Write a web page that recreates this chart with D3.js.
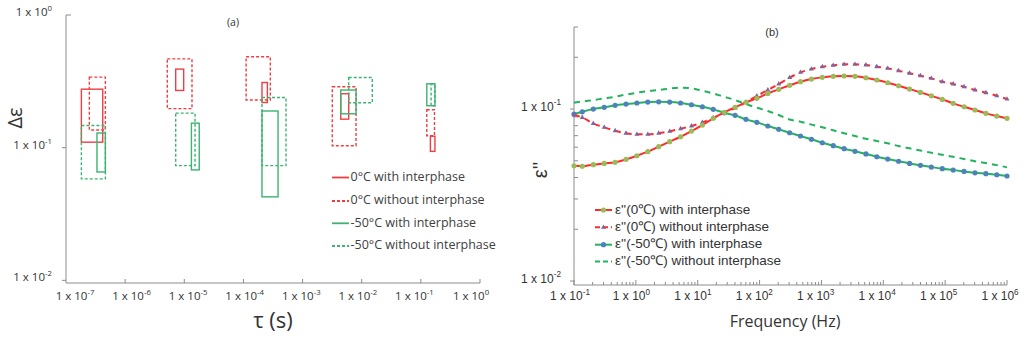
<!DOCTYPE html>
<html><head><meta charset="utf-8">
<script src="https://cdn.jsdelivr.net/npm/d3@7"></script>
<style>body{margin:0;background:#fff}</style>
</head><body><svg id="c" width="1024" height="341"></svg>
<script>
// ---------- Panel (a) data ----------
const seriesA = ["0°C with interphase", "0°C without interphase", "-50°C with interphase", "-50°C without interphase"];
const boxSeries = [0, 1, 2, 3,   1, 0, 3, 2,   1, 0, 3, 2,   1, 0, 2, 3,   2, 3, 1, 0];
const boxTauLo  = [1.82e-7, 2.48e-7, 3.34e-7, 1.82e-7,  5.16e-6, 7.16e-6, 7.16e-6, 1.32e-5,  1.11e-4, 2.06e-4, 2.06e-4, 2.06e-4,  3.18e-3, 4.42e-3, 4.42e-3, 6.03e-3,  0.126, 0.149, 0.126, 0.145];
const boxTauHi  = [4.18e-7, 4.63e-7, 4.63e-7, 4.63e-7,  1.35e-5, 9.77e-6, 1.52e-5, 1.79e-5,  2.85e-4, 2.54e-4, 5.25e-4, 3.85e-4,  8.02e-3, 6.03e-3, 8.02e-3, 1.51e-2,  0.173, 0.173, 0.170, 0.173];
const boxEpsLo  = [0.110, 0.136, 0.0656, 0.0582,  0.197, 0.270, 0.0732, 0.068,  0.229, 0.219, 0.0732, 0.0426,  0.1035, 0.164, 0.180, 0.218,  0.207, 0.207, 0.123, 0.0938];
const boxEpsHi  = [0.276, 0.340, 0.129, 0.147,  0.467, 0.391, 0.182, 0.153,  0.485, 0.310, 0.239, 0.189,  0.288, 0.255, 0.272, 0.338,  0.303, 0.303, 0.193, 0.122];
const tauTicks = [1e-7, 1e-6, 1e-5, 1e-4, 1e-3, 1e-2, 1e-1, 1];
const tauTickExp = ["-7", "-6", "-5", "-4", "-3", "-2", "-1", "0"];
const epsTicks = [1e-2, 1e-1, 1];
const epsTickExp = ["-2", "-1", "0"];

// ---------- Panel (b) data ----------
const freq = [0.1, 0.136, 0.205, 0.308, 0.462, 0.693, 1.04, 1.56, 2.34, 3.52, 5.28, 7.92, 11.9, 17.8, 26.8, 40.2, 60.3, 90.5, 136, 204, 306, 459, 689, 1033, 1552, 2328, 3493, 5248, 7870, 11800, 17700, 26600, 39900, 59800, 89900, 134900, 202300, 304100, 456000, 684000, 1000000];
const eps0With = [0.0468, 0.0465, 0.0475, 0.0483, 0.0490, 0.0510, 0.0535, 0.0565, 0.0604, 0.0646, 0.0690, 0.0745, 0.0807, 0.0883, 0.0957, 0.1023, 0.1094, 0.1154, 0.1233, 0.1302, 0.1374, 0.1442, 0.1494, 0.1528, 0.1549, 0.1556, 0.1549, 0.1520, 0.1475, 0.1422, 0.1366, 0.1307, 0.1250, 0.1194, 0.1138, 0.1079, 0.1031, 0.0987, 0.0944, 0.0910, 0.0883];
const eps0Without = [0.0923, 0.0893, 0.0824, 0.0783, 0.0748, 0.0723, 0.0713, 0.0713, 0.0723, 0.0742, 0.0768, 0.0797, 0.0837, 0.0890, 0.0951, 0.1013, 0.1098, 0.1191, 0.1290, 0.1398, 0.1524, 0.1633, 0.1708, 0.1762, 0.1795, 0.1820, 0.1820, 0.1803, 0.1762, 0.1724, 0.1671, 0.1614, 0.1563, 0.1507, 0.1442, 0.1398, 0.1348, 0.1290, 0.1244, 0.1194, 0.1143];
const eps50With = [0.0935, 0.0964, 0.1000, 0.1023, 0.1051, 0.1069, 0.1084, 0.1098, 0.1102, 0.1098, 0.1084, 0.1059, 0.1031, 0.0996, 0.0951, 0.0919, 0.0871, 0.0837, 0.0797, 0.0762, 0.0728, 0.0697, 0.0667, 0.0637, 0.0612, 0.0588, 0.0568, 0.0548, 0.0528, 0.0512, 0.0497, 0.0483, 0.0471, 0.0460, 0.0450, 0.0442, 0.0434, 0.0426, 0.0421, 0.0415, 0.0408];
const eps50Without = [0.1088, 0.1106, 0.1128, 0.1154, 0.1179, 0.1214, 0.1244, 0.1273, 0.1290, 0.1315, 0.1330, 0.1319, 0.1277, 0.1233, 0.1179, 0.1128, 0.1069, 0.1018, 0.0974, 0.0923, 0.0869, 0.0844, 0.0812, 0.0783, 0.0752, 0.0723, 0.0697, 0.0672, 0.0652, 0.0632, 0.0609, 0.0591, 0.0574, 0.0557, 0.0542, 0.0528, 0.0512, 0.0497, 0.0485, 0.0472, 0.0458];
const seriesB = ["ε''(0℃) with interphase", "ε''(0℃) without interphase", "ε''(-50℃) with interphase", "ε''(-50℃) without interphase"];
const freqTicks = [1e-1, 1e0, 1e1, 1e2, 1e3, 1e4, 1e5, 1e6];
const freqTickExp = ["-1", "0", "1", "2", "3", "4", "5", "6"];
const epsBTicks = [1e-2, 1e-1];
const epsBTickExp = ["-2", "-1"];

// ---------- common ----------
const svg = d3.select("#c");
const fA = "'Open Sans', sans-serif";
const fB = "'Liberation Sans', Arial, sans-serif";
const axisCol = "#8c8c8c";
const txtCol = "#333";

function sciLabel(g, x, y, exp, size, font, anchor) {
  const t = g.append("text").attr("x", x).attr("y", y)
    .attr("font-family", font).attr("font-size", size).attr("fill", txtCol)
    .attr("text-anchor", anchor).attr("dominant-baseline", "middle");
  t.append("tspan").text("1 x 10");
  t.append("tspan").attr("dy", -size * 0.35).attr("font-size", size * 0.68).text(exp);
}

// ================= Panel (a) =================
const gA = svg.append("g");
const xA = d3.scaleLog().domain([1e-7, 1]).range([66, 480]);
const xALab = d3.scaleLog().domain([1e-7, 1]).range([75, 471]);
const yA = d3.scaleLog().domain([Math.pow(10, -2.02), 1]).range([283, 15]);
const colA = ["#ef3e42", "#ef3e42", "#3cb371", "#3cb371"];
const dashA = [null, "3,2", null, "3,2"];

gA.append("line").attr("x1", xA.range()[0]).attr("x2", xA.range()[0]).attr("y1", yA.range()[0]).attr("y2", yA.range()[1]).attr("stroke", axisCol);
gA.append("line").attr("x1", xA.range()[0]).attr("x2", xA.range()[1]).attr("y1", yA.range()[0]).attr("y2", yA.range()[0]).attr("stroke", axisCol);
tauTicks.forEach((v, i) => {
  if (i > 0) gA.append("line").attr("x1", xA(v)).attr("x2", xA(v)).attr("y1", yA.range()[0]).attr("y2", yA.range()[0] - 4).attr("stroke", axisCol);
  sciLabel(gA, xALab(v), 297, tauTickExp[i], 11.5, fA, "middle");
});
epsTicks.forEach((v, i) => {
  const inward = v === 1;
  gA.append("line").attr("x1", xA.range()[0]).attr("x2", xA.range()[0] + (inward ? 5 : -4)).attr("y1", yA(v)).attr("y2", yA(v)).attr("stroke", axisCol);
  sciLabel(gA, 52, yA(v) - 2, epsTickExp[i], 11.5, fA, "end");
});

boxSeries.forEach((s, i) => {
  const x0 = xA(boxTauLo[i]), x1 = xA(boxTauHi[i]);
  const y0 = yA(boxEpsHi[i]), y1 = yA(boxEpsLo[i]);
  gA.append("rect").attr("x", x0).attr("y", y0).attr("width", x1 - x0).attr("height", y1 - y0)
    .attr("fill", "none").attr("stroke", colA[s]).attr("stroke-width", 1.4)
    .attr("stroke-dasharray", dashA[s]);
});

gA.append("text").attr("x", 233).attr("y", 23).attr("text-anchor", "middle").attr("dominant-baseline", "middle")
  .attr("font-family", fA).attr("font-size", 10.5).attr("fill", txtCol).text("(a)");
gA.append("text").attr("x", 273).attr("y", 322).attr("text-anchor", "middle").attr("dominant-baseline", "middle")
  .attr("font-family", fA).attr("font-size", 22).attr("fill", txtCol).text("τ (s)");
gA.append("text").attr("transform", "translate(17,118) rotate(-90)").attr("text-anchor", "middle").attr("dominant-baseline", "middle")
  .attr("font-family", fA).attr("font-size", 20).attr("fill", txtCol).text("Δε");

const legAY = [177.5, 201, 223.3, 246];
seriesA.forEach((name, i) => {
  gA.append("line").attr("x1", 332).attr("x2", 349).attr("y1", legAY[i]).attr("y2", legAY[i])
    .attr("stroke", colA[i]).attr("stroke-width", 1.8).attr("stroke-dasharray", dashA[i]);
  gA.append("text").attr("x", 350.5).attr("y", legAY[i]).attr("dominant-baseline", "middle")
    .attr("font-family", fA).attr("font-size", 12.5).attr("fill", "#404040").text(name);
});

// ================= Panel (b) =================
const gB = svg.append("g");
const xB = d3.scaleLog().domain([0.1, 1e6]).range([574, 1007]);
const xBLab = d3.scaleLog().domain([0.1, 1e6]).range([570, 1000]);
const yB = d3.scaleLog().domain([Math.pow(10, -2.023), Math.pow(10, -0.523)]).range([285, 27]);

gB.append("line").attr("x1", xB.range()[0]).attr("x2", xB.range()[0]).attr("y1", yB.range()[0]).attr("y2", yB.range()[1]).attr("stroke", axisCol);
gB.append("line").attr("x1", xB.range()[0]).attr("x2", xB.range()[1]).attr("y1", yB.range()[0]).attr("y2", yB.range()[0]).attr("stroke", axisCol);
freqTicks.forEach((v, i) => {
  gB.append("line").attr("x1", xB(v)).attr("x2", xB(v)).attr("y1", yB.range()[0]).attr("y2", yB.range()[0] - 5).attr("stroke", axisCol);
  if (i < freqTicks.length - 1) {
    for (let m = 2; m <= 9; m++) {
      const mv = v * m;
      gB.append("line").attr("x1", xB(mv)).attr("x2", xB(mv)).attr("y1", yB.range()[0]).attr("y2", yB.range()[0] - 3).attr("stroke", axisCol);
    }
  }
  sciLabel(gB, xBLab(v), 297, freqTickExp[i], 12, fB, "middle");
});
epsBTicks.forEach((v, i) => {
  gB.append("line").attr("x1", xB.range()[0]).attr("x2", xB.range()[0] - 4).attr("y1", yB(v)).attr("y2", yB(v)).attr("stroke", axisCol);
  for (let m = 2; m <= 9; m++) {
    const mv = v * m;
    if (mv <= yB.domain()[1] * 1.001)
      gB.append("line").attr("x1", xB.range()[0]).attr("x2", xB.range()[0] + 4).attr("y1", yB(mv)).attr("y2", yB(mv)).attr("stroke", axisCol);
  }
  sciLabel(gB, 561, yB(v) - 1.5, epsBTickExp[i], 12, fB, "end");
});

const line = d3.line().x((d, i) => xB(freq[i])).y(d => yB(d)).curve(d3.curveMonotoneX);
const cRed = "#ff2a2a", cGreen = "#22b35e", cGreenMk = "#9bbb59", cBlue = "#4f81bd", cPurple = "#8064a2";
const linesB = [
  { data: eps50Without, stroke: cGreen, dash: "6,5", mk: null },
  { data: eps50With, stroke: cGreen, dash: null, mk: "circle", mkCol: cBlue },
  { data: eps0Without, stroke: cRed, dash: "6,5", mk: "tri", mkCol: cPurple },
  { data: eps0With, stroke: cRed, dash: null, mk: "circle", mkCol: cGreenMk }
];
const triSym = d3.symbol().type(d3.symbolTriangle).size(11);
function marker(g, type, x, y, col) {
  if (type === "circle") g.append("circle").attr("cx", x).attr("cy", y).attr("r", 2.6).attr("fill", col);
  else if (type === "tri") g.append("path").attr("d", triSym()).attr("transform", `translate(${x},${y})`).attr("fill", col);
}
linesB.forEach(s => {
  gB.append("path").attr("d", line(s.data)).attr("fill", "none").attr("stroke", s.stroke)
    .attr("stroke-width", 2).attr("stroke-dasharray", s.dash);
  if (s.mk) s.data.forEach((d, i) => marker(gB, s.mk, xB(freq[i]), yB(d), s.mkCol));
});

gB.append("text").attr("x", 772).attr("y", 33).attr("text-anchor", "middle").attr("dominant-baseline", "middle")
  .attr("font-family", fB).attr("font-size", 11).attr("fill", txtCol).text("(b)");
gB.append("text").attr("x", 785).attr("y", 323).attr("text-anchor", "middle").attr("dominant-baseline", "middle")
  .attr("font-family", fA).attr("font-size", 16).attr("fill", txtCol).text("Frequency (Hz)");
gB.append("text").attr("transform", "translate(542,170) rotate(-90)").attr("text-anchor", "middle").attr("dominant-baseline", "middle")
  .attr("font-family", fB).attr("font-size", 20).attr("fill", txtCol).text("ε''");

const legBY = [210, 227.3, 244.7, 261.5];
const legOrder = [3, 2, 1, 0];
seriesB.forEach((name, i) => {
  const s = linesB[legOrder[i]];
  gB.append("line").attr("x1", 595).attr("x2", 612).attr("y1", legBY[i]).attr("y2", legBY[i])
    .attr("stroke", s.stroke).attr("stroke-width", 2).attr("stroke-dasharray", s.dash ? "5,3" : null);
  if (s.mk) marker(gB, s.mk, 603.5, legBY[i], s.mkCol);
  gB.append("text").attr("x", 615).attr("y", legBY[i]).attr("dominant-baseline", "middle")
    .attr("font-family", fB).attr("font-size", 13.5).attr("fill", txtCol).text(name);
});
</script>
</body></html>
